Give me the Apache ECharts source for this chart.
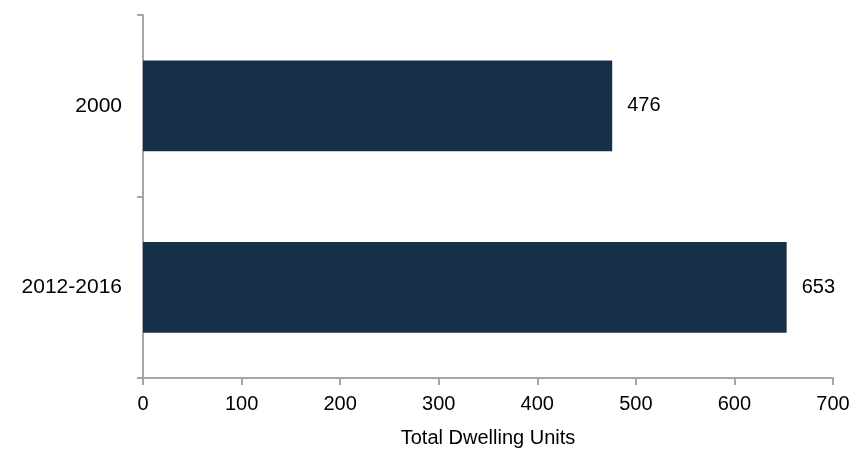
<!DOCTYPE html>
<html><head><meta charset="utf-8">
<script src="https://cdn.jsdelivr.net/npm/echarts@6/dist/echarts.min.js"></script>
<style>html,body{margin:0;padding:0;background:#fff}#c{width:857px;height:453px}</style>
</head><body><div id="c"></div>
<script>
const categories = ['2000', '2012-2016'];
const values = [476, 653];
const xTicks = {min: 0, max: 700, interval: 100};
const xName = 'Total Dwelling Units';

const chart = echarts.init(document.getElementById('c'));
const axisColor = '#a6a6a6';
const font = '"Liberation Sans", Arial, sans-serif';
chart.setOption({
  animation: false,
  grid: {left: 143, right: 24, top: 15, bottom: 73},
  xAxis: {
    type: 'value', min: xTicks.min, max: xTicks.max, interval: xTicks.interval,
    name: xName, nameLocation: 'middle', nameGap: 50,
    nameTextStyle: {color: '#000', fontSize: 20, fontFamily: font},
    axisLine: {show: true, lineStyle: {color: axisColor, width: 2}},
    axisTick: {show: true, length: 7, lineStyle: {color: axisColor, width: 2}},
    splitLine: {show: false},
    axisLabel: {color: '#000', fontSize: 20, fontFamily: font, margin: 16}
  },
  yAxis: {
    type: 'category', data: categories, inverse: true,
    axisLine: {show: true, lineStyle: {color: axisColor, width: 2}},
    axisTick: {show: true, length: 6, lineStyle: {color: axisColor, width: 2}},
    axisLabel: {color: '#000', fontSize: 21, fontFamily: font, margin: 21}
  },
  series: [{
    type: 'bar', data: values, barCategoryGap: '50%',
    itemStyle: {color: '#17304a'},
    label: {show: true, position: 'right', distance: 15, color: '#000', fontSize: 20, fontFamily: font}
  }]
});
</script></body></html>
